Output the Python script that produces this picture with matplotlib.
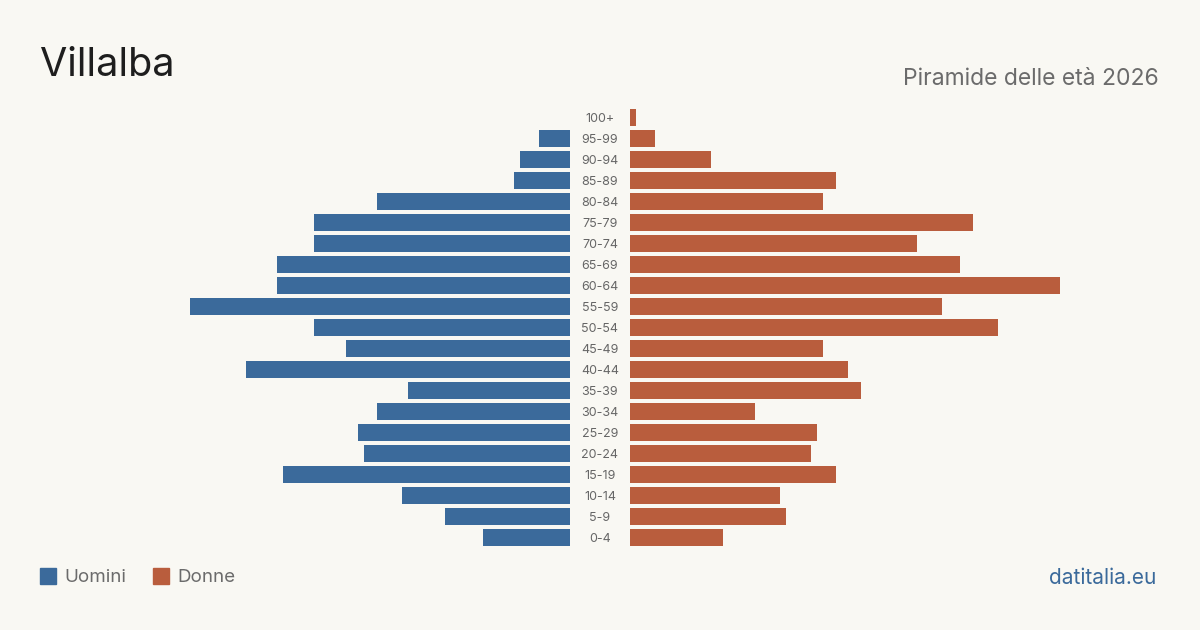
import matplotlib
matplotlib.use("Agg")
import matplotlib.pyplot as plt
from matplotlib.patches import Rectangle

plt.rcParams['font.family'] = ['Inter', 'DejaVu Sans']

age_groups = ["0-4", "5-9", "10-14", "15-19", "20-24", "25-29", "30-34", "35-39",
              "40-44", "45-49", "50-54", "55-59", "60-64", "65-69", "70-74", "75-79",
              "80-84", "85-89", "90-94", "95-99", "100+"]
men = [14, 20, 27, 46, 33, 34, 31, 26, 52, 36, 41, 61, 47, 47, 41, 41, 31, 9, 8, 5, 0]
women = [15, 25, 24, 33, 29, 30, 20, 37, 35, 31, 59, 50, 69, 53, 46, 55, 31, 33, 13, 4, 1]

title = "Villalba"
subtitle = "Piramide delle età 2026"
source = "datitalia.eu"
legend_labels = ["Uomini", "Donne"]

BG = "#f9f8f3"
BLUE = "#3b6a9b"
ORANGE = "#b95d3d"

W, H = 1200, 630
fig = plt.figure(figsize=(W / 100, H / 100), dpi=100, facecolor=BG)

xmax = max(max(men), max(women))
px_per_unit = 430 / 69
span = xmax * px_per_unit

y_top = 107
y_bot = 548
ax_b = 1 - y_bot / H
ax_h = (y_bot - y_top) / H

axL = fig.add_axes([(570 - span) / W, ax_b, span / W, ax_h])
axR = fig.add_axes([630 / W, ax_b, span / W, ax_h])

ypos = list(range(len(age_groups)))
axL.barh(ypos, men, height=0.81, color=BLUE)
axR.barh(ypos, women, height=0.81, color=ORANGE)
axL.set_xlim(xmax, 0)
axR.set_xlim(0, xmax)
for ax in (axL, axR):
    ax.set_ylim(-0.5, len(age_groups) - 0.5)
    ax.axis("off")
    ax.set_facecolor("none")

for i, lab in enumerate(age_groups):
    y = 1 - (y_bot - (i + 0.5) * (y_bot - y_top) / len(age_groups) + 1.5) / H
    fig.text(600 / W, y, lab, ha="center", va="center", fontsize=9, color="#666666")

fig.text(40 / W, 1 - 66 / H, title, ha="left", va="center", fontsize=28.5, color="#1e1e1e")
fig.text(1159 / W, 1 - 79 / H, subtitle, ha="right", va="center", fontsize=16.5, color="#6b6b6b")

fig.patches.append(Rectangle((40 / W, 1 - 584 / H), 16 / W, 16 / H, transform=fig.transFigure,
                             color=BLUE, figure=fig))
fig.text(64 / W, 1 - 578 / H, legend_labels[0], ha="left", va="center", fontsize=13.5, color="#6b6b6b")
fig.patches.append(Rectangle((153 / W, 1 - 584 / H), 16 / W, 16 / H, transform=fig.transFigure,
                             color=ORANGE, figure=fig))
fig.text(177 / W, 1 - 578 / H, legend_labels[1], ha="left", va="center", fontsize=13.5, color="#6b6b6b")

fig.text(1156 / W, 1 - 578 / H, source, ha="right", va="center", fontsize=15, color=BLUE)

fig.savefig("out.png", dpi=100, facecolor=BG)
